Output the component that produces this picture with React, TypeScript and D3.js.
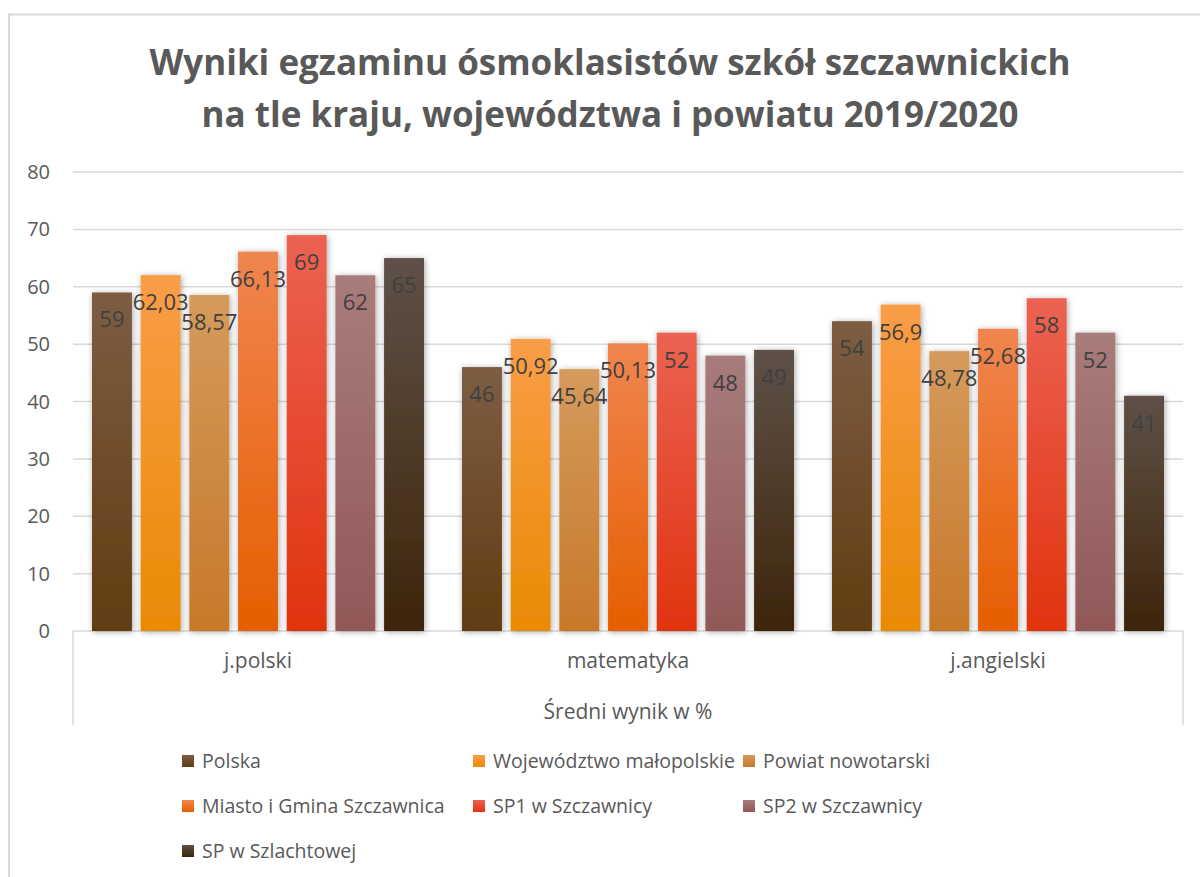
import React from 'react'
import * as d3 from 'd3'

const categories = ['j.polski', 'matematyka', 'j.angielski']
const series = [
  'Polska',
  'Województwo małopolskie',
  'Powiat nowotarski',
  'Miasto i Gmina Szczawnica',
  'SP1 w Szczawnicy',
  'SP2 w Szczawnicy',
  'SP w Szlachtowej',
]
// values per series: [j.polski, matematyka, j.angielski]
const polska = [59, 46, 54]
const wojewodztwo = [62.03, 50.92, 56.9]
const powiat = [58.57, 45.64, 48.78]
const miasto = [66.13, 50.13, 52.68]
const sp1 = [69, 52, 58]
const sp2 = [62, 48, 52]
const szlachtowa = [65, 49, 41]
const values = [polska, wojewodztwo, powiat, miasto, sp1, sp2, szlachtowa]
const yTicks = [0, 10, 20, 30, 40, 50, 60, 70, 80]

// gradient [top, bottom] per series
const gradients = [
  ['#7d5d43', '#623c11'],
  ['#fa9d48', '#ea8a04'],
  ['#d69a5c', '#c7792a'],
  ['#f08550', '#e65e00'],
  ['#ec6252', '#e0330f'],
  ['#a87c7b', '#925858'],
  ['#5e5148', '#3d250a'],
]

const FONT = '"Open Sans", sans-serif'
const TXT = '#595959'

export default function App() {
  const left = 73, right = 1183, top = 172, bottom = 631
  const y = d3.scaleLinear().domain([0, 80]).range([bottom, top])
  const x0 = d3.scaleBand<string>().domain(categories).range([left, right])
  const x1 = d3.scaleBand<string>().domain(series).range([19, x0.bandwidth() - 19]).paddingInner(0.18)
  const fmt = (v: number) => String(v).replace('.', ',')

  const legendCols = [182, 473, 743]
  const legendRows = [761, 806, 851]

  return (
    <svg width={1200} height={877} style={{ position: 'absolute', left: 0, top: 0 }} fontFamily={FONT}>
      <defs>
        {gradients.map((g, i) => (
          <linearGradient key={i} id={`g${i}`} x1="0" y1="0" x2="0" y2="1">
            <stop offset="0" stopColor={g[0]} />
            <stop offset="1" stopColor={g[1]} />
          </linearGradient>
        ))}
        <filter id="shadow" x="-30%" y="-10%" width="160%" height="120%">
          <feDropShadow dx="1" dy="1" stdDeviation="3" floodColor="#000" floodOpacity="0.35" />
        </filter>
      </defs>
      <rect x={0} y={0} width={1200} height={877} fill="#fff" />
      <rect x={9} y={14.5} width={1220} height={900} fill="none" stroke="#d9d9d9" strokeWidth={2} />

      <text x={610} y={75} textAnchor="middle" fontSize={35} fontWeight="bold" fill={TXT}>
        Wyniki egzaminu ósmoklasistów szkół szczawnickich
      </text>
      <text x={610} y={127} textAnchor="middle" fontSize={35} fontWeight="bold" fill={TXT}>
        na tle kraju, województwa i powiatu 2019/2020
      </text>

      {yTicks.map(t => (
        <g key={t}>
          <line x1={left} x2={right} y1={y(t)} y2={y(t)} stroke="#d9d9d9" strokeWidth={1.5} />
          <text x={50} y={y(t) + 7} textAnchor="end" fontSize={20} fill={TXT}>{t}</text>
        </g>
      ))}
      <line x1={left} x2={left} y1={bottom} y2={725} stroke="#d9d9d9" strokeWidth={1.5} />
      <line x1={right} x2={right} y1={bottom} y2={725} stroke="#d9d9d9" strokeWidth={1.5} />

      {categories.map((c, ci) => (
        <g key={c} transform={`translate(${x0(c)},0)`}>
          {series.map((s, si) => {
            const v = values[si][ci]
            const bx = x1(s)!
            return (
              <rect key={s} x={bx} y={y(v)} width={x1.bandwidth()} height={bottom - y(v)}
                fill={`url(#g${si})`} filter="url(#shadow)" />
            )
          })}
          {series.map((s, si) => {
            const v = values[si][ci]
            return (
              <text key={s} x={x1(s)! + x1.bandwidth() / 2} y={y(v) + 35} textAnchor="middle"
                fontSize={22} fill="#404040">{fmt(v)}</text>
            )
          })}
          <text x={x0.bandwidth() / 2} y={668} textAnchor="middle" fontSize={21} fill={TXT}>{c}</text>
        </g>
      ))}
      <text x={628} y={719} textAnchor="middle" fontSize={21} fill={TXT}>Średni wynik w %</text>

      {series.map((s, i) => {
        const cx = legendCols[i % 3]
        const cy = legendRows[Math.floor(i / 3)]
        return (
          <g key={s}>
            <rect x={cx} y={cy - 6} width={12} height={12} fill={`url(#g${i})`} />
            <text x={cx + 20} y={cy + 7} fontSize={19.5} fill={TXT}>{s}</text>
          </g>
        )
      })}
    </svg>
  )
}
